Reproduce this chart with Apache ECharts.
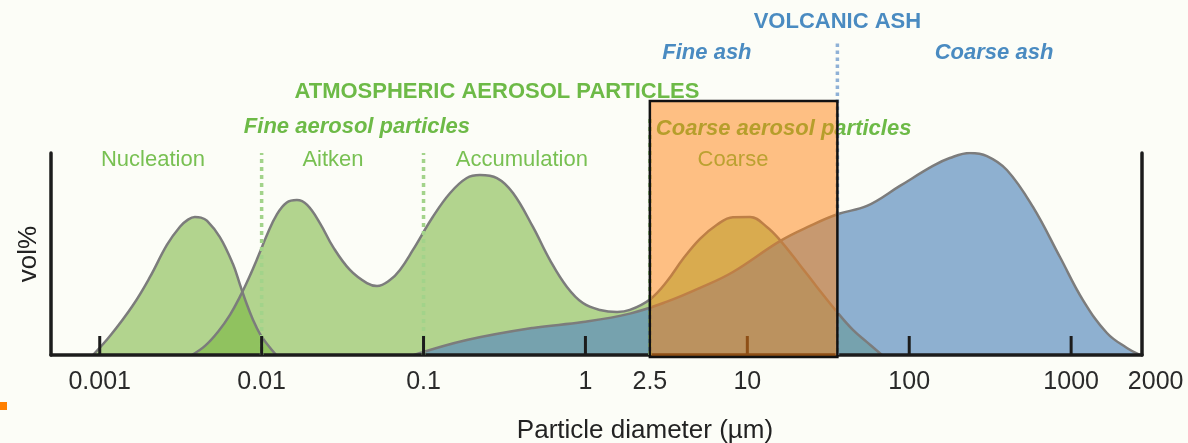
<!DOCTYPE html>
<html>
<head>
<meta charset="utf-8">
<script src="https://cdn.jsdelivr.net/npm/echarts@6/dist/echarts.min.js"></script>
<style>
html, body { margin: 0; padding: 0; background: #fcfdf7; }
#chart { width: 1188px; height: 443px; }
</style>
</head>
<body>
<div id="chart"></div>
<script>
// Size distributions: [particle diameter (µm), relative volume %]
const nucleationMode = [
  [0.000908, 0], [0.00116, 9.5], [0.0016, 24.5], [0.00204, 38.5], [0.0026, 54.5],
  [0.00313, 63.5], [0.00351, 67.0], [0.00387, 68.3], [0.00422, 68.0], [0.00459, 66.5],
  [0.00552, 58.4], [0.00665, 45.0], [0.00734, 35.0], [0.00811, 25.0], [0.00884, 17.5],
  [0.00976, 10.5], [0.0108, 5.5], [0.0123, 0]
];
const aerosolModes = [
  [0.00371, 0], [0.00447, 4.5], [0.00538, 11.5], [0.00639, 20.0], [0.00736, 29.0],
  [0.00838, 38.5], [0.00954, 49.0], [0.0108, 59.5], [0.0124, 69.5], [0.0143, 75.5],
  [0.0165, 76.7], [0.0191, 74.3], [0.0229, 65.3], [0.0276, 53.5], [0.0351, 42.1],
  [0.0447, 35.6], [0.0516, 34.2], [0.062, 37.1], [0.0715, 42.1], [0.086, 52.0],
  [0.114, 68.3], [0.146, 80.2], [0.185, 87.6], [0.223, 89.1], [0.284, 87.6],
  [0.357, 80.2], [0.474, 63.4], [0.604, 47.0], [0.769, 33.7], [0.965, 25.7],
  [1.23, 22.3], [1.57, 21.3], [1.88, 22.3], [2.5, 27.5], [3.19, 36.5],
  [4.0, 47.5], [5.1, 57.5], [6.49, 64.5], [8.15, 68.2], [10.4, 68.3],
  [13.2, 63.4], [15.9, 56.9], [21.1, 44.6], [26.9, 33.7], [35.8, 21.3],
  [44.9, 12.4], [54.8, 6.4], [67.8, 0]
];
const volcanicAsh = [
  [0.0872, 0], [0.185, 7.4], [0.474, 13.4], [0.965, 16.3], [1.88, 20.5], [3.19, 26.4],
  [5.1, 33.2], [8.15, 41.1], [15.9, 56.4], [24.4, 63.9], [36.3, 69.8], [54.8, 73.8],
  [87.6, 83.7], [140, 93.6], [178, 97.5], [237, 100], [302, 98.5], [401, 91.6],
  [581, 73.3], [853, 48.5], [1183, 27.2], [1664, 10.9], [2212, 3.5], [2660, 0]
];

// Size class boundaries (µm)
const modeBoundaries = [0.01, 0.1];
const aerosolSizeBoundary = 2.5;
const ashSizeBoundary = 36;
const modeNames = ['Nucleation', 'Aitken', 'Accumulation', 'Coarse'];

// Axis ticks
const tickValues = [0.001, 0.01, 0.1, 1, 2.5, 10, 100, 1000, 2000];
const tickLabels = ['0.001', '0.01', '0.1', '1', '2.5', '10', '100', '1000', '2000'];
const tickMarks = [0.001, 0.01, 0.1, 1, 10, 100, 1000];
const axisMin = 0.0005;
const axisMax = 2740;

const FONT = '"Liberation Sans", Arial, Helvetica, sans-serif';
const GREEN_TEXT = '#6dba47';
const GREEN_MODE = '#78c052';
const BLUE_TEXT = '#4a8bc1';
const OUTLINE = '#7c7c7c';

// label anchor diameters (µm) for the mode names, in the order of modeNames
const modeLabelAt = [0.00213, 0.0276, 0.405, 8.15];

const chart = echarts.init(document.getElementById('chart'), null, { renderer: 'canvas' });

function distributionSeries(name, data, color, opacity) {
  return {
    name: name,
    type: 'line',
    data: data,
    smooth: 0.4,
    symbol: 'none',
    silent: true,
    lineStyle: { color: OUTLINE, width: 2.5 },
    areaStyle: { color: color, opacity: opacity, origin: 'start' },
    z: 2
  };
}

const boundaryData = modeBoundaries.map(v => [v, 0, 'mode'])
  .concat([[aerosolSizeBoundary, 0, 'size'], [ashSizeBoundary, 0, 'ash']]);

const boundaryStyle = {
  mode: { top: 153, color: '#a2d38a', dash: [4, 4] },
  size: { top: 117, color: '#a2d38a', dash: [4, 4] },
  ash:  { top: 42,  color: '#8fb1d6', dash: [3.5, 3.5] }
};

const option = {
  backgroundColor: '#fcfdf7',
  animation: false,
  grid: { left: 51, right: 46, top: 153, bottom: 88, containLabel: false },
  xAxis: {
    type: 'log',
    logBase: 10,
    min: axisMin,
    max: axisMax,
    z: 3,
    axisLine: { show: true, onZero: false, lineStyle: { color: '#1c1c1c', width: 3.5 } },
    axisTick: { show: false },
    axisLabel: { show: false },
    splitLine: { show: false }
  },
  yAxis: [
    {
      type: 'value', min: 0, max: 100, z: 3,
      name: 'vol%', nameLocation: 'middle', nameRotate: 90, nameGap: 9,
      nameTextStyle: { fontFamily: FONT, fontSize: 26, color: '#222' },
      axisLine: { show: true, lineStyle: { color: '#1c1c1c', width: 3.5 } },
      axisTick: { show: false }, axisLabel: { show: false }, splitLine: { show: false }
    },
    {
      type: 'value', min: 0, max: 100, position: 'right', z: 3,
      axisLine: { show: true, lineStyle: { color: '#1c1c1c', width: 3.5 } },
      axisTick: { show: false }, axisLabel: { show: false }, splitLine: { show: false }
    }
  ],
  series: [
    distributionSeries('Nucleation mode', nucleationMode, '#75b239', 0.55),
    distributionSeries('Atmospheric aerosol', aerosolModes, '#75b239', 0.55),
    distributionSeries('Volcanic ash', volcanicAsh, '#5a8abc', 0.68),
    {
      // dotted size-class boundaries
      type: 'custom', silent: true, clip: false, z: 5,
      data: boundaryData,
      renderItem: function (params, api) {
        const item = boundaryData[params.dataIndex];
        const s = boundaryStyle[item[2]];
        const p = api.coord([api.value(0), 0]);
        return {
          type: 'line',
          shape: { x1: p[0], y1: p[1], x2: p[0], y2: s.top },
          style: { stroke: s.color, lineWidth: 3.5, lineDash: s.dash, lineCap: 'butt' }
        };
      }
    },
    {
      // tick marks and tick labels
      type: 'custom', silent: true, clip: false, z: 5,
      data: tickValues.map(v => [v, 0]),
      renderItem: function (params, api) {
        const v = api.value(0);
        const p = api.coord([v, 0]);
        const isEnd = params.dataIndex === tickValues.length - 1;
        const children = [];
        if (tickMarks.indexOf(v) >= 0) {
          children.push({
            type: 'line',
            shape: { x1: p[0], y1: p[1], x2: p[0], y2: p[1] - 19 },
            style: { stroke: '#1c1c1c', lineWidth: 3 }
          });
        }
        children.push({
          type: 'text',
          x: isEnd ? p[0] + 8 : p[0],
          y: 382.5,
          style: {
            text: tickLabels[params.dataIndex],
            fill: '#2a2a2a',
            font: '25px ' + FONT,
            align: isEnd ? 'left' : 'center',
            verticalAlign: 'middle'
          }
        });
        return { type: 'group', children: children };
      }
    },
    {
      // class headings and mode names
      type: 'custom', silent: true, clip: false, z: 4,
      data: [[1, 0]],
      renderItem: function (params, api) {
        const xAt = v => api.coord([v, 0])[0];
        const txt = (text, x, y, color, weight, align) => ({
          type: 'text', x: x, y: y,
          style: { text: text, fill: color, font: weight + ' 22px ' + FONT,
                   align: align || 'center', verticalAlign: 'middle' }
        });
        const children = modeNames.map((name, i) =>
          txt(name, xAt(modeLabelAt[i]), 159.5, GREEN_MODE, 'normal'));
        children.push(
          txt('VOLCANIC ASH', xAt(ashSizeBoundary), 21.5, BLUE_TEXT, 'bold'),
          txt('Fine ash', xAt(5.63), 52.5, BLUE_TEXT, 'italic bold'),
          txt('Coarse ash', xAt(334), 52.5, BLUE_TEXT, 'italic bold'),
          txt('ATMOSPHERIC AEROSOL PARTICLES', xAt(0.284), 92, GREEN_TEXT, 'bold'),
          txt('Fine aerosol particles', xAt(0.0388), 126.5, GREEN_TEXT, 'italic bold'),
          txt('Coarse aerosol particles', xAt(aerosolSizeBoundary) + 6, 129, GREEN_TEXT, 'italic bold', 'left')
        );
        return { type: 'group', children: children };
      }
    },
    {
      // PM2.5 – fine ash overlap window
      type: 'custom', silent: true, clip: false, z: 10,
      data: [[aerosolSizeBoundary, 0, ashSizeBoundary]],
      renderItem: function (params, api) {
        const a = api.coord([api.value(0), 0]);
        const b = api.coord([api.value(2), 0]);
        return {
          type: 'rect',
          shape: { x: a[0], y: 101, width: b[0] - a[0], height: a[1] + 2 - 101 },
          style: { fill: 'rgba(255,129,16,0.5)', stroke: '#111', lineWidth: 2.5 }
        };
      }
    }
  ],
  graphic: [
    {
      type: 'text', x: 645, y: 431, silent: true,
      style: { text: 'Particle diameter (µm)', fill: '#222', font: '26px ' + FONT,
               align: 'center', verticalAlign: 'middle' }
    },
    {
      type: 'rect', silent: true,
      shape: { x: 0, y: 402, width: 7, height: 8 },
      style: { fill: '#ff7f00' }
    }
  ]
};

chart.setOption(option);
</script>
</body>
</html>
